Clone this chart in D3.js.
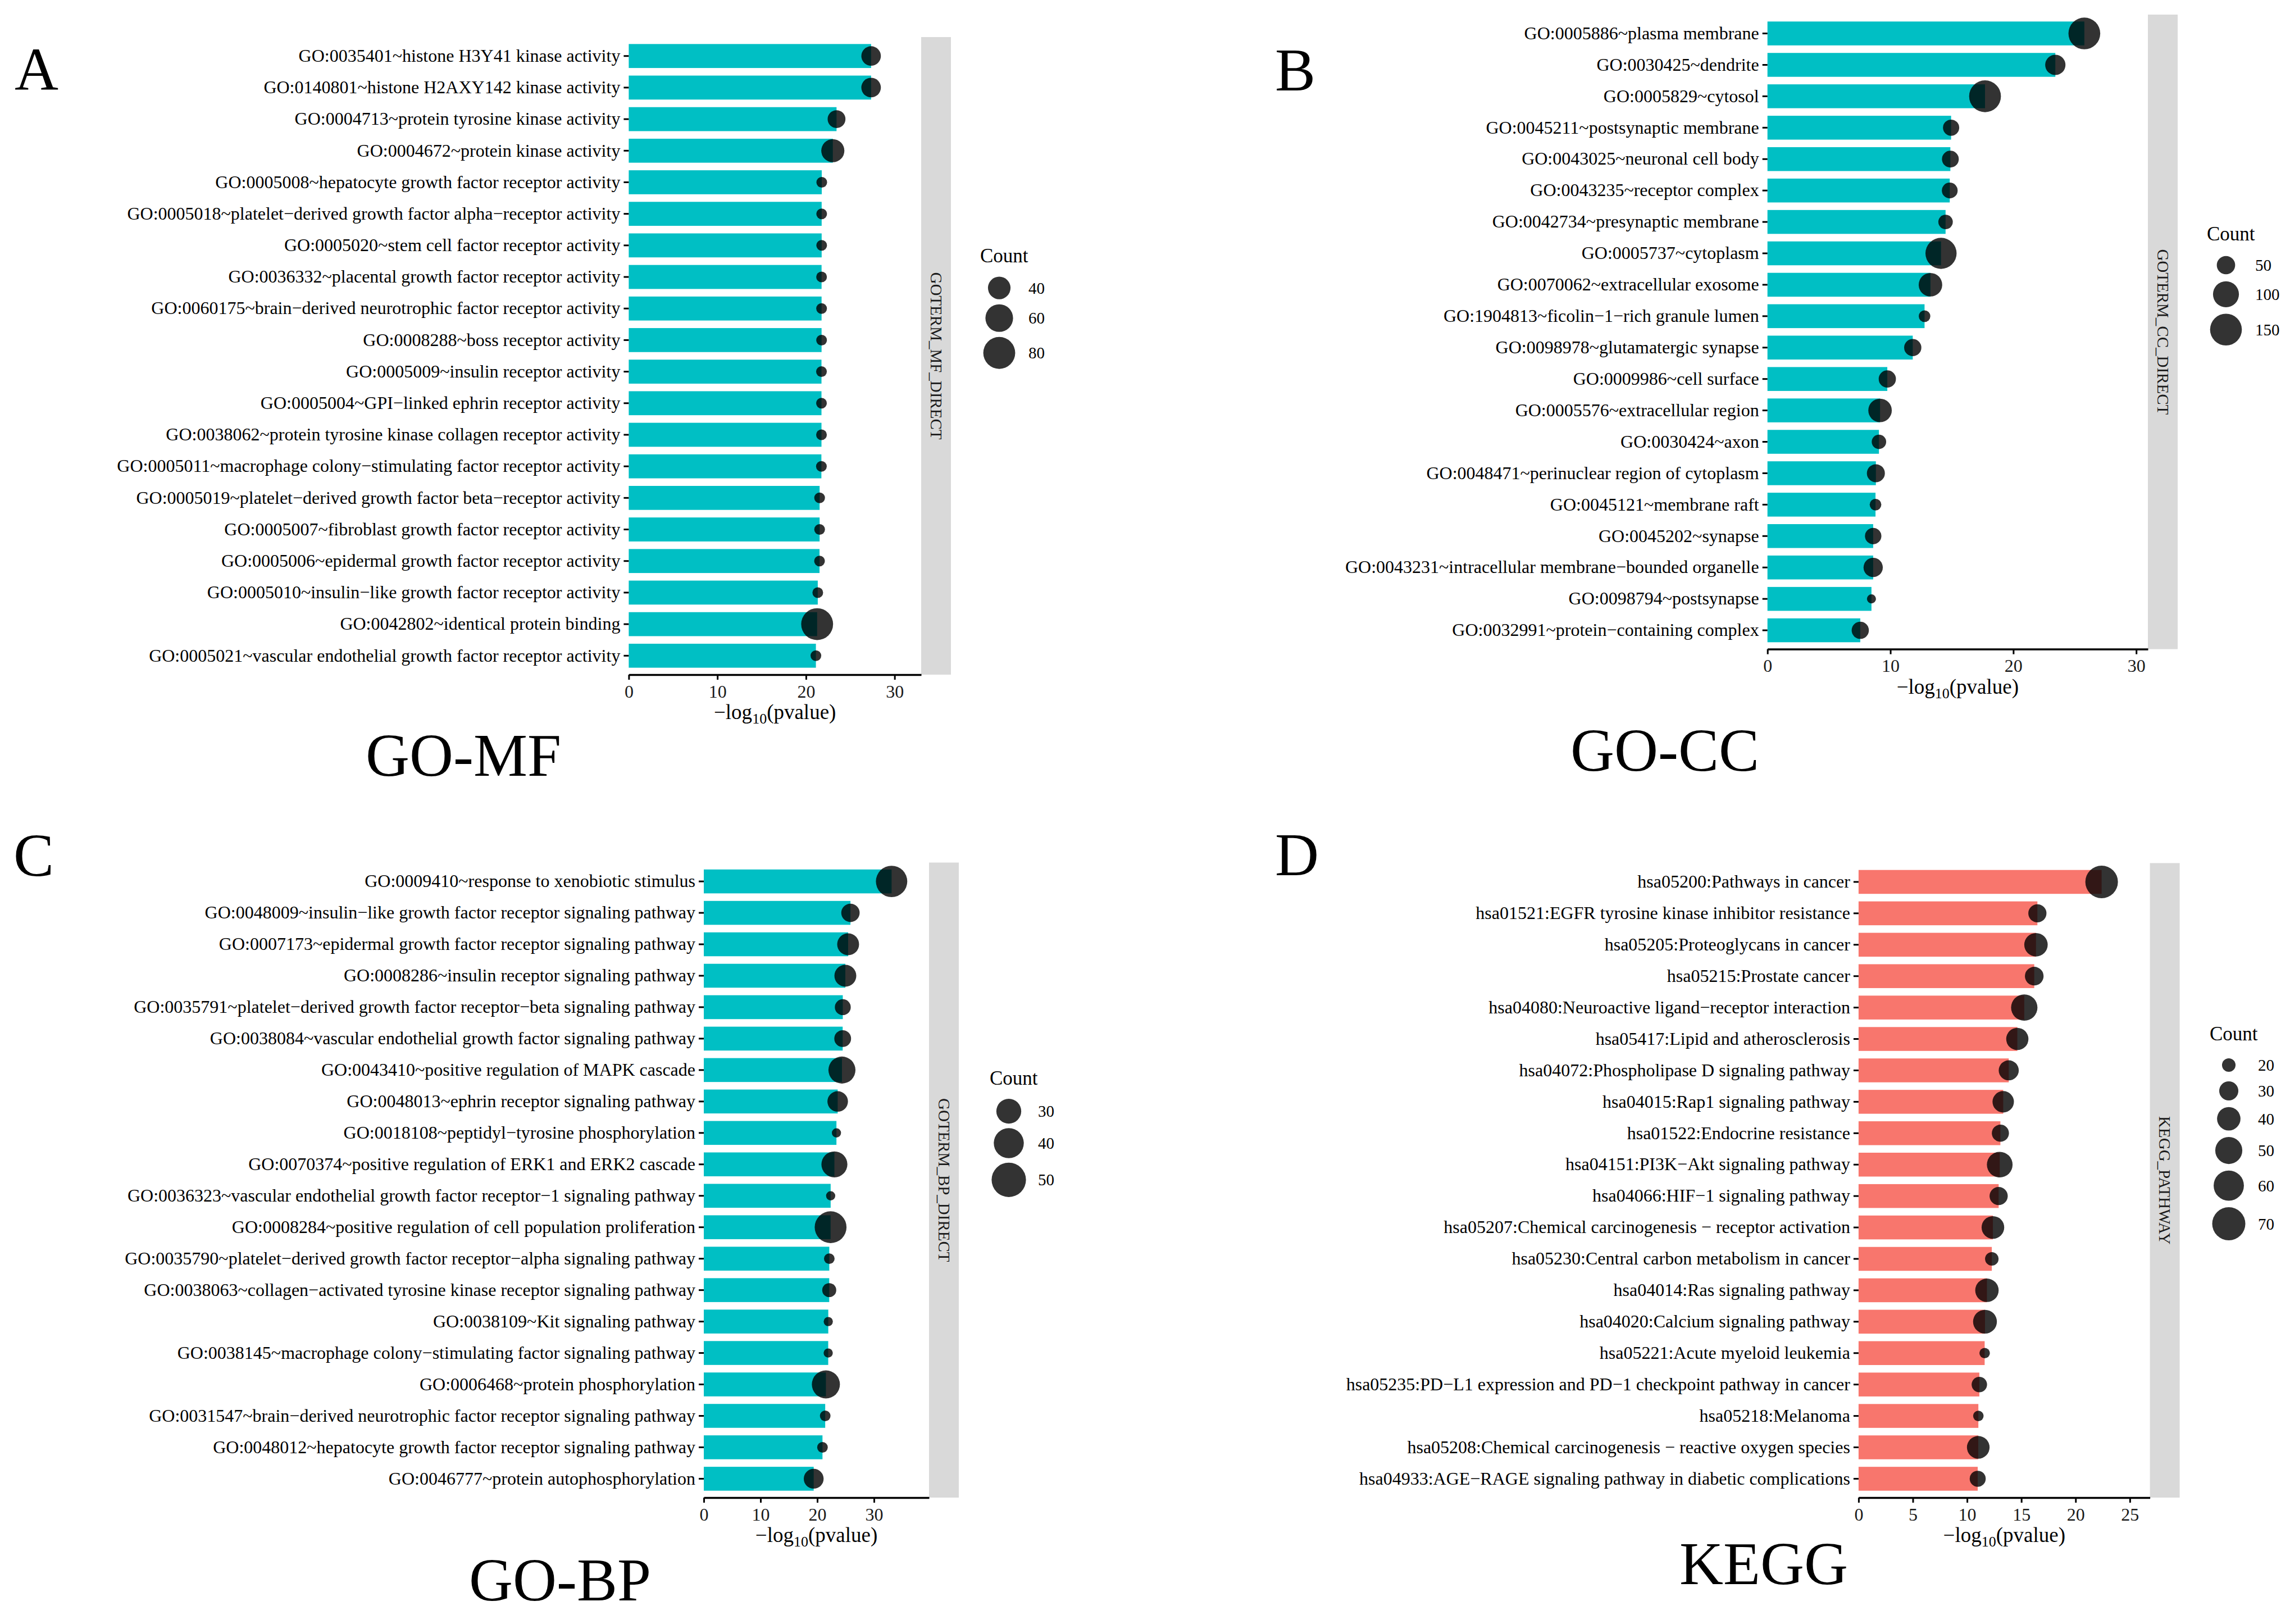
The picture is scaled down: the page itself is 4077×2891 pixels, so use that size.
<!DOCTYPE html>
<html>
<head>
<meta charset="utf-8">
<script src="https://cdn.jsdelivr.net/npm/d3@7"></script>
<style>
  body { margin: 0; background: #fff; }
</style>
</head>
<body>
<div id="chart"></div>
<script>
// ---- data ----
const mfTerms = [
  'GO:0035401~histone H3Y41 kinase activity',
  'GO:0140801~histone H2AXY142 kinase activity',
  'GO:0004713~protein tyrosine kinase activity',
  'GO:0004672~protein kinase activity',
  'GO:0005008~hepatocyte growth factor receptor activity',
  'GO:0005018~platelet−derived growth factor alpha−receptor activity',
  'GO:0005020~stem cell factor receptor activity',
  'GO:0036332~placental growth factor receptor activity',
  'GO:0060175~brain−derived neurotrophic factor receptor activity',
  'GO:0008288~boss receptor activity',
  'GO:0005009~insulin receptor activity',
  'GO:0005004~GPI−linked ephrin receptor activity',
  'GO:0038062~protein tyrosine kinase collagen receptor activity',
  'GO:0005011~macrophage colony−stimulating factor receptor activity',
  'GO:0005019~platelet−derived growth factor beta−receptor activity',
  'GO:0005007~fibroblast growth factor receptor activity',
  'GO:0005006~epidermal growth factor receptor activity',
  'GO:0005010~insulin−like growth factor receptor activity',
  'GO:0042802~identical protein binding',
  'GO:0005021~vascular endothelial growth factor receptor activity'
];
const mfLogP = [27.35, 27.35, 23.45, 23.03, 21.78, 21.77, 21.77, 21.76, 21.76, 21.76, 21.75,
  21.75, 21.75, 21.74, 21.54, 21.54, 21.53, 21.33, 21.26, 21.12];
const mfCount = [30, 30, 25, 42, 9, 9, 9, 9, 9, 9, 9, 9, 9, 9, 9, 9, 9, 9, 88, 9];
const mfTicks = [0, 10, 20, 30];
const mfBreaks = [40, 60, 80];

const ccTerms = [
  'GO:0005886~plasma membrane',
  'GO:0030425~dendrite',
  'GO:0005829~cytosol',
  'GO:0045211~postsynaptic membrane',
  'GO:0043025~neuronal cell body',
  'GO:0043235~receptor complex',
  'GO:0042734~presynaptic membrane',
  'GO:0005737~cytoplasm',
  'GO:0070062~extracellular exosome',
  'GO:1904813~ficolin−1−rich granule lumen',
  'GO:0098978~glutamatergic synapse',
  'GO:0009986~cell surface',
  'GO:0005576~extracellular region',
  'GO:0030424~axon',
  'GO:0048471~perinuclear region of cytoplasm',
  'GO:0045121~membrane raft',
  'GO:0045202~synapse',
  'GO:0043231~intracellular membrane−bounded organelle',
  'GO:0098794~postsynapse',
  'GO:0032991~protein−containing complex'
];
const ccLogP = [25.78, 23.42, 17.70, 14.94, 14.88, 14.83, 14.49, 14.12, 13.26, 12.78,
  11.82, 9.75, 9.16, 9.07, 8.82, 8.79, 8.60, 8.60, 8.46, 7.55];
const ccCount = [158, 61, 150, 39, 42, 37, 31, 144, 82, 20, 44, 44, 82, 31, 48, 20, 40, 55, 12, 44];
const ccTicks = [0, 10, 20, 30];
const ccBreaks = [50, 100, 150];

const bpTerms = [
  'GO:0009410~response to xenobiotic stimulus',
  'GO:0048009~insulin−like growth factor receptor signaling pathway',
  'GO:0007173~epidermal growth factor receptor signaling pathway',
  'GO:0008286~insulin receptor signaling pathway',
  'GO:0035791~platelet−derived growth factor receptor−beta signaling pathway',
  'GO:0038084~vascular endothelial growth factor signaling pathway',
  'GO:0043410~positive regulation of MAPK cascade',
  'GO:0048013~ephrin receptor signaling pathway',
  'GO:0018108~peptidyl−tyrosine phosphorylation',
  'GO:0070374~positive regulation of ERK1 and ERK2 cascade',
  'GO:0036323~vascular endothelial growth factor receptor−1 signaling pathway',
  'GO:0008284~positive regulation of cell population proliferation',
  'GO:0035790~platelet−derived growth factor receptor−alpha signaling pathway',
  'GO:0038063~collagen−activated tyrosine kinase receptor signaling pathway',
  'GO:0038109~Kit signaling pathway',
  'GO:0038145~macrophage colony−stimulating factor signaling pathway',
  'GO:0006468~protein phosphorylation',
  'GO:0031547~brain−derived neurotrophic factor receptor signaling pathway',
  'GO:0048012~hepatocyte growth factor receptor signaling pathway',
  'GO:0046777~protein autophosphorylation'
];
const bpLogP = [33.1, 25.85, 25.44, 24.95, 24.5, 24.48, 24.35, 23.6, 23.38, 23.02,
  22.36, 22.35, 22.12, 22.11, 21.94, 21.93, 21.52, 21.4, 20.92, 19.37];
const bpCount = [43, 20, 25, 25, 17, 18, 34, 23, 11, 32, 11, 44, 12, 15, 11, 11, 36, 12, 12, 22];
const bpTicks = [0, 10, 20, 30];
const bpBreaks = [30, 40, 50];

const keggTerms = [
  'hsa05200:Pathways in cancer',
  'hsa01521:EGFR tyrosine kinase inhibitor resistance',
  'hsa05205:Proteoglycans in cancer',
  'hsa05215:Prostate cancer',
  'hsa04080:Neuroactive ligand−receptor interaction',
  'hsa05417:Lipid and atherosclerosis',
  'hsa04072:Phospholipase D signaling pathway',
  'hsa04015:Rap1 signaling pathway',
  'hsa01522:Endocrine resistance',
  'hsa04151:PI3K−Akt signaling pathway',
  'hsa04066:HIF−1 signaling pathway',
  'hsa05207:Chemical carcinogenesis − receptor activation',
  'hsa05230:Central carbon metabolism in cancer',
  'hsa04014:Ras signaling pathway',
  'hsa04020:Calcium signaling pathway',
  'hsa05221:Acute myeloid leukemia',
  'hsa05235:PD−L1 expression and PD−1 checkpoint pathway in cancer',
  'hsa05218:Melanoma',
  'hsa05208:Chemical carcinogenesis − reactive oxygen species',
  'hsa04933:AGE−RAGE signaling pathway in diabetic complications'
];
const keggLogP = [22.4, 16.48, 16.35, 16.19, 15.27, 14.63, 13.84, 13.33, 13.07, 13.01,
  12.91, 12.38, 12.28, 11.83, 11.65, 11.62, 11.13, 11.04, 11.03, 10.98];
const keggCount = [68, 28, 40, 29, 48, 37, 32, 35, 26, 46, 28, 38, 20, 40, 41, 16, 23, 16, 38, 24];
const keggTicks = [0, 5, 10, 15, 20, 25];
const keggBreaks = [20, 30, 40, 50, 60, 70];

// ---- drawing ----
const width = 4077;
const height = 2891;
const font = "'Liberation Serif', 'Times New Roman', serif";

const svg = d3.select('#chart').append('svg')
  .attr('width', width)
  .attr('height', height)
  .attr('font-family', font)
  .style('background', '#fff');

const drawPanel = (p) => {
  const g = svg.append('g');
  const rows = p.terms.map((t, i) => ({ term: t, value: p.values[i], count: p.counts[i] }));

  const x = d3.scaleLinear().domain([0, p.xMax]).range([p.left, p.right]);
  const y = d3.scaleBand()
    .domain(p.terms)
    .range([p.top, p.bottom])
    .paddingInner(0.24)
    .paddingOuter(0.22);
  const size = d3.scaleRadial().domain(p.sizeDomain).range([0, p.rMax]).clamp(true);

  // facet strip
  g.append('rect')
    .attr('x', p.right)
    .attr('y', p.top)
    .attr('width', 53)
    .attr('height', p.bottom - p.top)
    .attr('fill', '#d9d9d9');
  g.append('text')
    .attr('transform', `translate(${p.right + 26.5},${(p.top + p.bottom) / 2}) rotate(90)`)
    .attr('text-anchor', 'middle')
    .attr('dominant-baseline', 'central')
    .attr('font-size', 29)
    .attr('fill', '#1a1a1a')
    .text(p.strip);

  g.selectAll('rect.bar')
    .data(rows)
    .join('rect')
    .attr('class', 'bar')
    .attr('x', x(0))
    .attr('y', d => y(d.term))
    .attr('width', d => x(d.value) - x(0))
    .attr('height', y.bandwidth())
    .attr('fill', p.color);

  g.selectAll('circle.dot')
    .data(rows)
    .join('circle')
    .attr('class', 'dot')
    .attr('cx', d => x(d.value))
    .attr('cy', d => y(d.term) + y.bandwidth() / 2)
    .attr('r', d => size(d.count))
    .attr('fill', '#000')
    .attr('fill-opacity', 0.8);

  // y axis: ticks and labels only
  const yAxis = g.append('g')
    .attr('transform', `translate(${x(0)},0)`)
    .call(d3.axisLeft(y).tickSize(9).tickPadding(6));
  yAxis.select('.domain').remove();
  yAxis.selectAll('line').attr('stroke', '#000').attr('stroke-width', 3);
  yAxis.selectAll('text').attr('font-size', 32).attr('fill', '#000');
  yAxis.attr('font-family', font);

  // x axis
  const xAxis = g.append('g')
    .attr('transform', `translate(0,${p.bottom})`)
    .call(d3.axisBottom(x).tickValues(p.ticks).tickSize(9).tickSizeOuter(0).tickPadding(9));
  xAxis.select('.domain').attr('stroke', '#000').attr('stroke-width', 3.5);
  xAxis.selectAll('line').attr('stroke', '#000').attr('stroke-width', 3);
  xAxis.selectAll('text').attr('font-size', 32).attr('fill', '#1a1a1a');
  xAxis.attr('font-family', font);

  const title = g.append('text')
    .attr('x', (p.left + p.right) / 2)
    .attr('y', p.bottom + 79)
    .attr('text-anchor', 'middle')
    .attr('font-size', 37)
    .attr('fill', '#000');
  title.append('tspan').text('−log');
  title.append('tspan').attr('font-size', 26).attr('dy', 8).text('10');
  title.append('tspan').attr('dy', -8).text('(pvalue)');

  // size legend
  const lg = g.append('g');
  lg.append('text')
    .attr('x', p.legend.x - 34)
    .attr('y', p.legend.y)
    .attr('font-size', 35)
    .attr('fill', '#000')
    .text('Count');
  let yy = p.legend.y + 21;
  p.breaks.forEach(b => {
    const h = Math.max(2 * size(b) + p.legend.pad, 46);
    const cy = yy + h / 2;
    lg.append('circle')
      .attr('cx', p.legend.x)
      .attr('cy', cy)
      .attr('r', size(b))
      .attr('fill', '#000')
      .attr('fill-opacity', 0.8);
    lg.append('text')
      .attr('x', p.legend.x + 52)
      .attr('y', cy)
      .attr('dominant-baseline', 'central')
      .attr('font-size', 29)
      .attr('fill', '#000')
      .text(b);
    yy += h;
  });

  // panel letter and caption
  g.append('text')
    .attr('x', p.letter.x)
    .attr('y', p.letter.y)
    .attr('font-size', 108)
    .attr('fill', '#000')
    .text(p.letter.text);
  g.append('text')
    .attr('x', p.caption.x)
    .attr('y', p.caption.y)
    .attr('text-anchor', 'middle')
    .attr('font-size', 108)
    .attr('fill', '#000')
    .text(p.caption.text);
};

drawPanel({
  terms: mfTerms, values: mfLogP, counts: mfCount, ticks: mfTicks, breaks: mfBreaks,
  color: '#00BFC4', strip: 'GOTERM_MF_DIRECT',
  left: 1119.4, right: 1640, xMax: 33.0, top: 66, bottom: 1201,
  sizeDomain: [0, 80], rMax: 28.4,
  legend: { x: 1779, y: 467, pad: 9 },
  letter: { text: 'A', x: 26, y: 160 },
  caption: { text: 'GO-MF', x: 825, y: 1381 }
});

drawPanel({
  terms: ccTerms, values: ccLogP, counts: ccCount, ticks: ccTicks, breaks: ccBreaks,
  color: '#00BFC4', strip: 'GOTERM_CC_DIRECT',
  left: 3146.7, right: 3824, xMax: 30.95, top: 26, bottom: 1155.6,
  sizeDomain: [0, 150], rMax: 28.3,
  legend: { x: 3963, y: 428, pad: 11.5 },
  letter: { text: 'B', x: 2270, y: 161 },
  caption: { text: 'GO-CC', x: 2964, y: 1372 }
});

drawPanel({
  terms: bpTerms, values: bpLogP, counts: bpCount, ticks: bpTicks, breaks: bpBreaks,
  color: '#00BFC4', strip: 'GOTERM_BP_DIRECT',
  left: 1253, right: 1654, xMax: 39.7, top: 1535.5, bottom: 2666,
  sizeDomain: [8, 50], rMax: 30.6,
  legend: { x: 1796, y: 1931, pad: 8 },
  letter: { text: 'C', x: 24, y: 1559 },
  caption: { text: 'GO-BP', x: 997, y: 2849 }
});

drawPanel({
  terms: keggTerms, values: keggLogP, counts: keggCount, ticks: keggTicks, breaks: keggBreaks,
  color: '#F8766D', strip: 'KEGG_PATHWAY',
  left: 3308.9, right: 3827.6, xMax: 26.85, top: 1536.4, bottom: 2666,
  sizeDomain: [10, 70], rMax: 29.5,
  legend: { x: 3968, y: 1852, pad: 11.5 },
  letter: { text: 'D', x: 2270, y: 1558 },
  caption: { text: 'KEGG', x: 3140, y: 2820 }
});
</script>
</body>
</html>
